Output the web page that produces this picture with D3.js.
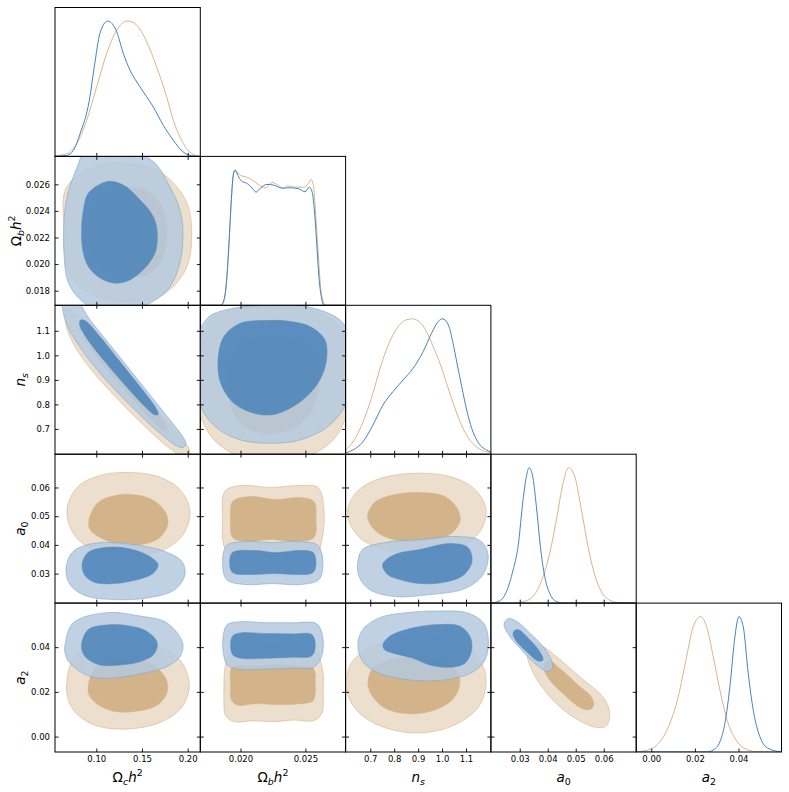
<!DOCTYPE html>
<html>
<head>
<meta charset="utf-8">
<script src="https://cdn.jsdelivr.net/npm/d3@7"></script>
<style>
body { margin: 0; background: #fff; }
text { font-family: "DejaVu Sans", sans-serif; }
</style>
</head>
<body>
<script>
// parameter ranges (axis limits) for omch2, ombh2, ns, a0, a2
var ranges = [[0.0548, 0.2138], [0.0169, 0.0281], [0.597, 1.204], [0.0197, 0.0716], [-0.0069, 0.0597]];
var tickValues = [[0.10, 0.15, 0.20], [0.020, 0.025], [0.7, 0.8, 0.9, 1.0, 1.1], [0.03, 0.04, 0.05, 0.06], [0.00, 0.02, 0.04]];
var yTickValues = [[], [0.018, 0.020, 0.022, 0.024, 0.026], [0.7, 0.8, 0.9, 1.0, 1.1], [0.03, 0.04, 0.05, 0.06], [0.00, 0.02, 0.04]];
var tickFormats = [".2f", ".3f", ".1f", ".2f", ".2f"];

// axis label pieces (text, italic, sub/sup)
var axisLabels = [
  [{s: "\u03A9"}, {s: "c", it: 1, pos: "sub"}, {s: "h", it: 1}, {s: "2", pos: "sup"}],
  [{s: "\u03A9"}, {s: "b", it: 1, pos: "sub"}, {s: "h", it: 1}, {s: "2", pos: "sup"}],
  [{s: "n", it: 1}, {s: "s", it: 1, pos: "sub"}],
  [{s: "a", it: 1}, {s: "0", pos: "sub"}],
  [{s: "a", it: 1}, {s: "2", pos: "sub"}]
];

// 1D marginals, [value, density / peak]
var omch2Tan = [[0.0548,0.005],[0.0676,0.02],[0.0785,0.094],[0.0895,0.267],[0.1004,0.514],[0.1113,0.760],[0.1223,0.933],[0.1340,1.0],[0.1442,0.970],[0.1551,0.847],[0.1660,0.662],[0.1770,0.440],[0.1843,0.267],[0.1916,0.143],[0.1989,0.057],[0.2062,0.015],[0.2138,0.003]];
var omch2Blue = [[0.0548,0],[0.0676,0.007],[0.0749,0.044],[0.0822,0.168],[0.0924,0.415],[0.0978,0.662],[0.1040,0.909],[0.1124,1.0],[0.1223,0.921],[0.1296,0.760],[0.1369,0.637],[0.1478,0.514],[0.1624,0.365],[0.1733,0.230],[0.1843,0.119],[0.1952,0.032],[0.2043,0.005],[0.2138,0]];
var ombh2Tan = [[0.0169,0],[0.01852,0],[0.01878,0.05],[0.01898,0.24],[0.01916,0.53],[0.01934,0.85],[0.01949,0.99],[0.01964,0.99],[0.02000,0.96],[0.02051,0.946],[0.02089,0.926],[0.02140,0.89],[0.02191,0.866],[0.02242,0.907],[0.02286,0.89],[0.02332,0.863],[0.02362,0.882],[0.02421,0.873],[0.02485,0.873],[0.02523,0.90],[0.02543,0.93],[0.02561,0.89],[0.02579,0.681],[0.02597,0.41],[0.02617,0.139],[0.02638,0.028],[0.02658,0],[0.0281,0]];
var ombh2Blue = [[0.0169,0],[0.01847,0],[0.01872,0.04],[0.01893,0.19],[0.01911,0.46],[0.01929,0.78],[0.01944,0.96],[0.01959,1.0],[0.01980,0.96],[0.02005,0.92],[0.02051,0.90],[0.02089,0.866],[0.02120,0.836],[0.02153,0.866],[0.02204,0.893],[0.02255,0.888],[0.02319,0.866],[0.02383,0.868],[0.02446,0.861],[0.02497,0.839],[0.02530,0.873],[0.02551,0.841],[0.02569,0.706],[0.02587,0.459],[0.02604,0.213],[0.02622,0.065],[0.02643,0],[0.0281,0]];
var nsTan = [[0.597,0.03],[0.627,0.09],[0.655,0.178],[0.683,0.30],[0.711,0.449],[0.739,0.622],[0.767,0.77],[0.795,0.881],[0.823,0.956],[0.851,0.993],[0.876,1.0],[0.907,0.975],[0.935,0.906],[0.963,0.795],[0.991,0.672],[1.019,0.523],[1.047,0.375],[1.075,0.24],[1.103,0.14],[1.131,0.074],[1.166,0.03],[1.204,0.012]];
var nsBlue = [[0.597,0.01],[0.627,0.03],[0.669,0.091],[0.711,0.215],[0.753,0.363],[0.795,0.462],[0.837,0.548],[0.879,0.635],[0.921,0.758],[0.956,0.894],[0.984,0.98],[1.002,1.0],[1.026,0.956],[1.047,0.81],[1.061,0.684],[1.082,0.50],[1.103,0.326],[1.124,0.19],[1.145,0.104],[1.166,0.055],[1.187,0.03],[1.204,0.015]];
var a0Tan = [[0.0197,0],[0.02762,0],[0.03238,0.017],[0.03595,0.084],[0.03833,0.195],[0.04071,0.368],[0.04310,0.615],[0.04548,0.886],[0.04738,1.0],[0.04964,0.936],[0.05202,0.689],[0.05440,0.417],[0.05679,0.207],[0.05917,0.084],[0.06214,0.022],[0.06571,0.002],[0.0716,0]];
var a0Blue = [[0.0197,0],[0.02286,0.017],[0.02524,0.084],[0.02762,0.244],[0.02940,0.417],[0.03119,0.763],[0.03238,0.936],[0.03333,1.0],[0.03452,0.948],[0.03595,0.714],[0.03738,0.417],[0.03893,0.195],[0.04071,0.072],[0.04310,0.012],[0.04548,0],[0.0716,0]];
var a2Tan = [[-0.0069,0],[-0.0006,0.02],[0.00399,0.076],[0.00857,0.212],[0.01238,0.409],[0.01620,0.704],[0.01925,0.926],[0.02261,1.0],[0.02536,0.926],[0.02842,0.704],[0.03147,0.458],[0.03453,0.249],[0.03834,0.101],[0.04216,0.032],[0.04827,0.002],[0.0597,0]];
var a2Blue = [[-0.0069,0],[0.02536,0],[0.02842,0.015],[0.03147,0.076],[0.03376,0.212],[0.03605,0.483],[0.03834,0.852],[0.04017,1.0],[0.04216,0.926],[0.04445,0.581],[0.04674,0.31],[0.04979,0.113],[0.05361,0.027],[0.0597,0]];
var marginals = [[omch2Tan, omch2Blue], [ombh2Tan, ombh2Blue], [nsTan, nsBlue], [a0Tan, a0Blue], [a2Tan, a2Blue]];

// 2D contours (68% inner, 95% outer), [x param, y param]
var P10 = {
  tanOuter: [[0.0676,0.02582],[0.1040,0.02745],[0.1333,0.02758],[0.1661,0.02708],[0.1880,0.02582],[0.2007,0.02432],[0.2044,0.02233],[0.2007,0.02008],[0.1880,0.01858],[0.1661,0.01745],[0.1333,0.01720],[0.1040,0.01745],[0.0822,0.01832],[0.0676,0.01982],[0.0650,0.02233]],
  tanInner: [[0.1004,0.02483],[0.1186,0.02558],[0.1405,0.02578],[0.1588,0.02533],[0.1716,0.02432],[0.1770,0.02282],[0.1763,0.02132],[0.1697,0.02008],[0.1551,0.01920],[0.1333,0.01903],[0.1114,0.01933],[0.0986,0.02008],[0.0923,0.02132],[0.0923,0.02333]],
  blueOuter: [[0.0876,0.02858],[0.1150,0.02858],[0.1423,0.02843],[0.1642,0.02760],[0.1806,0.02580],[0.1916,0.02408],[0.1949,0.02235],[0.1916,0.02010],[0.1806,0.01830],[0.1620,0.01718],[0.1369,0.01658],[0.1040,0.01643],[0.0822,0.01733],[0.0690,0.01868],[0.0647,0.02070],[0.0647,0.02333],[0.0690,0.02535],[0.0800,0.02745]],
  blueInner: [[0.0912,0.02533],[0.1114,0.02620],[0.1295,0.02595],[0.1478,0.02483],[0.1624,0.02357],[0.1667,0.02233],[0.1642,0.02083],[0.1514,0.01958],[0.1333,0.01870],[0.1186,0.01858],[0.1040,0.01895],[0.0912,0.01982],[0.0851,0.02108],[0.0840,0.02282],[0.0865,0.02432]]
};
var P20 = {
  tanOuter: [[0.0668,1.1857],[0.0749,1.1789],[0.0913,1.1245],[0.1132,1.0293],[0.1350,0.9272],[0.1569,0.8252],[0.1788,0.7231],[0.1952,0.6551],[0.2025,0.6075],[0.2018,0.5803],[0.1934,0.5871],[0.1733,0.6415],[0.1496,0.7231],[0.1259,0.8116],[0.1022,0.9068],[0.0822,1.0020],[0.0694,1.0905],[0.0658,1.1517]],
  tanInner: [[0.0876,1.1068],[0.0949,1.0905],[0.1150,1.0089],[0.1369,0.9068],[0.1588,0.8048],[0.1752,0.7231],[0.1777,0.6987],[0.1733,0.6959],[0.1588,0.7435],[0.1369,0.8320],[0.1150,0.9272],[0.0949,1.0224],[0.0865,1.0769]],
  blueOuter: [[0.0639,1.2197],[0.0785,1.2197],[0.0931,1.1449],[0.1150,1.0429],[0.1369,0.9408],[0.1588,0.8388],[0.1806,0.7367],[0.1934,0.6755],[0.1981,0.6415],[0.1952,0.6252],[0.1879,0.6306],[0.1697,0.6823],[0.1478,0.7571],[0.1259,0.8388],[0.1040,0.9272],[0.0840,1.0224],[0.0705,1.1041],[0.0639,1.1721]],
  blueInner: [[0.0822,1.1422],[0.0876,1.1422],[0.1040,1.0769],[0.1259,0.9748],[0.1478,0.8728],[0.1642,0.7911],[0.1679,0.7599],[0.1642,0.7571],[0.1515,0.7980],[0.1296,0.8864],[0.1077,0.9816],[0.0895,1.0701],[0.0822,1.1177]]
};
var P30 = {
  tanOuter: [[0.0679,0.05232],[0.0800,0.06035],[0.1040,0.06419],[0.1347,0.06523],[0.1675,0.06383],[0.1916,0.05930],[0.2025,0.05163],[0.1949,0.04360],[0.1719,0.03802],[0.1347,0.03628],[0.0986,0.03802],[0.0756,0.04360]],
  tanInner: [[0.0920,0.04884],[0.1019,0.05476],[0.1205,0.05721],[0.1391,0.05755],[0.1610,0.05581],[0.1752,0.05163],[0.1784,0.04744],[0.1697,0.04256],[0.1500,0.04012],[0.1259,0.04012],[0.1040,0.04256],[0.0931,0.04535]],
  blueOuter: [[0.0668,0.03140],[0.0734,0.03732],[0.0909,0.04012],[0.1172,0.04081],[0.1478,0.03977],[0.1752,0.03767],[0.1938,0.03419],[0.1970,0.02965],[0.1861,0.02442],[0.1588,0.02163],[0.1205,0.02093],[0.0876,0.02233],[0.0712,0.02616]],
  blueInner: [[0.0844,0.03314],[0.0909,0.03732],[0.1095,0.03907],[0.1347,0.03872],[0.1566,0.03628],[0.1675,0.03314],[0.1620,0.03000],[0.1456,0.02791],[0.1205,0.02651],[0.0986,0.02686],[0.0876,0.02930]]
};
var P40 = {
  tanOuter: [[0.0676,0.02373],[0.0731,0.03351],[0.0895,0.04031],[0.1295,0.04334],[0.1661,0.04031],[0.1916,0.03428],[0.2018,0.02296],[0.1934,0.01313],[0.1697,0.00634],[0.1333,0.00335],[0.1004,0.00485],[0.0786,0.01014],[0.0694,0.01617]],
  tanInner: [[0.0912,0.02296],[0.0986,0.03053],[0.1186,0.03505],[0.1405,0.03505],[0.1624,0.03202],[0.1770,0.02523],[0.1770,0.01920],[0.1661,0.01390],[0.1442,0.01132],[0.1186,0.01132],[0.1004,0.01467],[0.0923,0.01843]],
  blueOuter: [[0.0658,0.04108],[0.0748,0.05091],[0.1114,0.05543],[0.1478,0.05389],[0.1770,0.05091],[0.1945,0.04185],[0.1916,0.03578],[0.1770,0.03125],[0.1405,0.02749],[0.1114,0.02600],[0.0895,0.02749],[0.0712,0.03279],[0.0658,0.03732]],
  blueInner: [[0.0840,0.04185],[0.0912,0.04787],[0.1077,0.04982],[0.1333,0.04968],[0.1551,0.04710],[0.1667,0.04185],[0.1624,0.03655],[0.1478,0.03351],[0.1259,0.03202],[0.1040,0.03202],[0.0895,0.03505],[0.0847,0.03804]]
};
var P21 = {
  tanOuter: [[0.01643,0.9544],[0.01770,1.1449],[0.02000,1.1925],[0.02255,1.1993],[0.02536,1.1857],[0.02765,1.1177],[0.02842,0.9544],[0.02829,0.7776],[0.02714,0.6551],[0.02510,0.5871],[0.02255,0.5667],[0.02000,0.5871],[0.01796,0.6551],[0.01668,0.7911]],
  tanInner: [[0.01898,0.9544],[0.01975,1.0360],[0.02102,1.0742],[0.02255,1.0809],[0.02434,1.0660],[0.02548,1.0224],[0.02599,0.9408],[0.02599,0.8456],[0.02536,0.7640],[0.02408,0.7027],[0.02242,0.6823],[0.02077,0.6959],[0.01962,0.7503],[0.01903,0.8456]],
  blueOuter: [[0.01643,1.0224],[0.01745,1.1517],[0.01949,1.1925],[0.02255,1.2034],[0.02561,1.1925],[0.02791,1.1313],[0.02867,0.9952],[0.02842,0.8320],[0.02689,0.7163],[0.02459,0.6551],[0.02230,0.6415],[0.02000,0.6551],[0.01821,0.7027],[0.01694,0.7911]],
  blueInner: [[0.02204,1.1422],[0.02000,1.1313],[0.01872,1.0769],[0.01827,0.9816],[0.01847,0.8864],[0.01949,0.8048],[0.02102,0.7640],[0.02230,0.7571],[0.02357,0.7776],[0.02510,0.8320],[0.02612,0.9000],[0.02663,0.9816],[0.02650,1.0633],[0.02536,1.1177],[0.02383,1.1381]]
};
var P31 = {
  tanOuter: [[0.01862,0.04884],[0.01878,0.05860],[0.02000,0.06069],[0.02230,0.06000],[0.02459,0.06069],[0.02597,0.06000],[0.02643,0.05232],[0.02628,0.04186],[0.02582,0.03663],[0.02383,0.03628],[0.02153,0.03593],[0.01962,0.03628],[0.01878,0.03907]],
  tanInner: [[0.01923,0.04884],[0.01939,0.05511],[0.02077,0.05686],[0.02268,0.05581],[0.02459,0.05651],[0.02566,0.05511],[0.02582,0.04884],[0.02566,0.04256],[0.02421,0.04116],[0.02230,0.04186],[0.02038,0.04116],[0.01939,0.04256]],
  blueOuter: [[0.01862,0.03384],[0.01893,0.03977],[0.02038,0.04116],[0.02245,0.04081],[0.02459,0.04116],[0.02597,0.03977],[0.02635,0.03384],[0.02605,0.02791],[0.02459,0.02616],[0.02245,0.02651],[0.02038,0.02616],[0.01893,0.02791]],
  blueInner: [[0.01916,0.03384],[0.01939,0.03732],[0.02115,0.03802],[0.02268,0.03732],[0.02459,0.03802],[0.02559,0.03732],[0.02582,0.03384],[0.02559,0.03035],[0.02421,0.02965],[0.02268,0.03000],[0.02077,0.02965],[0.01939,0.03035]]
};
var P41 = {
  tanOuter: [[0.01872,0.02070],[0.01885,0.03202],[0.01949,0.03913],[0.02102,0.03958],[0.02281,0.04004],[0.02459,0.03913],[0.02574,0.03850],[0.02633,0.02976],[0.02637,0.02070],[0.02625,0.01014],[0.02561,0.00711],[0.02408,0.00743],[0.02255,0.00666],[0.02102,0.00711],[0.01949,0.00666],[0.01885,0.00937],[0.01872,0.01617]],
  tanInner: [[0.01923,0.02373],[0.01929,0.03053],[0.01975,0.03157],[0.02102,0.03157],[0.02281,0.03202],[0.02459,0.03157],[0.02561,0.03053],[0.02576,0.02373],[0.02561,0.01617],[0.02459,0.01467],[0.02281,0.01436],[0.02102,0.01467],[0.01987,0.01390],[0.01931,0.01617]],
  blueOuter: [[0.01868,0.04561],[0.01898,0.05014],[0.02000,0.05136],[0.02204,0.05091],[0.02408,0.05091],[0.02587,0.05045],[0.02633,0.04484],[0.02625,0.03578],[0.02561,0.03098],[0.02408,0.03053],[0.02204,0.03021],[0.02000,0.03007],[0.01898,0.03202],[0.01868,0.03732]],
  blueInner: [[0.01923,0.04108],[0.01941,0.04515],[0.02000,0.04638],[0.02204,0.04606],[0.02408,0.04592],[0.02549,0.04561],[0.02576,0.04108],[0.02549,0.03610],[0.02408,0.03551],[0.02204,0.03505],[0.02000,0.03505],[0.01941,0.03655]]
};
var P32 = {
  tanOuter: [[0.6047,0.05058],[0.6341,0.05756],[0.7180,0.06244],[0.8649,0.06488],[1.0328,0.06383],[1.1377,0.05930],[1.1838,0.05232],[1.1587,0.04465],[1.0747,0.03942],[0.9069,0.03732],[0.7600,0.03837],[0.6551,0.04256]],
  tanInner: [[0.6887,0.04953],[0.7180,0.05476],[0.8020,0.05756],[0.9069,0.05825],[1.0118,0.05686],[1.0663,0.05232],[1.0747,0.04814],[1.0328,0.04360],[0.9279,0.04151],[0.8146,0.04151],[0.7306,0.04430]],
  blueOuter: [[0.6467,0.03314],[0.6677,0.03837],[0.7600,0.04081],[0.9069,0.04186],[1.0538,0.04291],[1.1587,0.04151],[1.1922,0.03663],[1.1713,0.02965],[1.0957,0.02477],[0.9488,0.02268],[0.8020,0.02198],[0.6971,0.02442],[0.6551,0.02860]],
  blueInner: [[0.7516,0.03314],[0.8020,0.03663],[0.9069,0.03837],[1.0328,0.04046],[1.1083,0.03907],[1.1251,0.03419],[1.0873,0.02930],[1.0034,0.02686],[0.9069,0.02651],[0.8230,0.02791],[0.7726,0.02965]]
};
var P42 = {
  tanOuter: [[0.5993,0.02296],[0.6203,0.03279],[0.6971,0.03958],[0.8511,0.04411],[0.9908,0.04366],[1.1029,0.03958],[1.1725,0.03125],[1.1826,0.02219],[1.1515,0.01313],[1.0609,0.00562],[0.9350,0.00181],[0.8091,0.00258],[0.6971,0.00711],[0.6270,0.01390]],
  tanInner: [[0.6899,0.02373],[0.7109,0.03053],[0.7810,0.03428],[0.8930,0.03578],[1.0047,0.03428],[1.0676,0.02826],[1.0718,0.02219],[1.0399,0.01617],[0.9627,0.01164],[0.8649,0.01014],[0.7671,0.01241],[0.7109,0.01767]],
  blueOuter: [[0.6480,0.04108],[0.6689,0.04787],[0.7390,0.05317],[0.8511,0.05543],[0.9908,0.05616],[1.1029,0.05543],[1.1725,0.05091],[1.1935,0.04334],[1.1797,0.03428],[1.1306,0.02899],[1.0466,0.02600],[0.9488,0.02491],[0.8511,0.02554],[0.7390,0.02826],[0.6689,0.03351]],
  blueInner: [[0.7529,0.04108],[0.7810,0.04484],[0.8788,0.04864],[0.9908,0.05014],[1.0747,0.04937],[1.1167,0.04484],[1.1238,0.03881],[1.0957,0.03279],[1.0328,0.03098],[0.9488,0.03202],[0.8788,0.03505],[0.7948,0.03732],[0.7600,0.03882]]
};
var P43 = {
  tanOuter: [[0.03261,0.03804],[0.03418,0.04108],[0.03775,0.04063],[0.04311,0.03578],[0.05143,0.02672],[0.05975,0.01766],[0.06214,0.01087],[0.06096,0.00485],[0.05739,0.00408],[0.05025,0.00788],[0.04311,0.01467],[0.03714,0.02373],[0.03357,0.03202]],
  tanInner: [[0.03857,0.03202],[0.04011,0.03428],[0.04429,0.03052],[0.05025,0.02373],[0.05561,0.01766],[0.05643,0.01390],[0.05475,0.01196],[0.05143,0.01313],[0.04546,0.01920],[0.04071,0.02523],[0.03893,0.02899]],
  blueOuter: [[0.02439,0.05014],[0.02582,0.05272],[0.02882,0.05163],[0.03357,0.04638],[0.03832,0.04031],[0.04132,0.03428],[0.04154,0.03007],[0.03954,0.02930],[0.03596,0.03202],[0.03061,0.03881],[0.02643,0.04484]],
  blueInner: [[0.02786,0.04710],[0.02939,0.04787],[0.03357,0.04334],[0.03714,0.03804],[0.03832,0.03428],[0.03654,0.03383],[0.03239,0.03804],[0.02882,0.04257],[0.02761,0.04561]]
};
var panels2d = [[1, 0, P10], [2, 0, P20], [3, 0, P30], [4, 0, P40], [2, 1, P21], [3, 1, P31], [4, 1, P41], [3, 2, P32], [4, 2, P42], [4, 3, P43]];

// layout
var W = 145.3, H = 148.9, X0 = 55, Y0 = 7.5;
var tanLine = "#d6b48c", blueLine = "#4682be";

var svg = d3.select("body").append("svg")
  .attr("width", 789)
  .attr("height", 792);
var defs = svg.append("defs");

function pdfLine(x, y) {
  return d3.line().x(function(d) { return x(d[0]); }).y(function(d) { return y(d[1]); }).curve(d3.curveMonotoneX);
}
function contourLine(x, y) {
  return d3.line().x(function(d) { return x(d[0]); }).y(function(d) { return y(d[1]); }).curve(d3.curveCatmullRomClosed.alpha(0.5));
}

function styleAxis(g) {
  g.select(".domain").remove();
  g.attr("font-size", 8.5).attr("font-family", "DejaVu Sans").attr("color", "#000");
  g.selectAll(".tick line").attr("stroke-width", 0.9);
}

for (var i = 0; i < 5; i++) {
  for (var j = 0; j <= i; j++) {
    var g = svg.append("g").attr("transform", "translate(" + (X0 + j * W) + "," + (Y0 + i * H) + ")");
    var id = "clip" + i + j;
    defs.append("clipPath").attr("id", id).append("rect").attr("width", W).attr("height", H);
    var plot = g.append("g").attr("clip-path", "url(#" + id + ")");
    var x = d3.scaleLinear().domain(ranges[j]).range([0, W]);

    if (i === j) {
      var yd = d3.scaleLinear().domain([0, 1.1]).range([H, 0]);
      plot.append("path").datum(marginals[i][0])
        .attr("d", pdfLine(x, yd)).attr("fill", "none").attr("stroke", tanLine).attr("stroke-width", 1);
      plot.append("path").datum(marginals[i][1])
        .attr("d", pdfLine(x, yd)).attr("fill", "none").attr("stroke", blueLine).attr("stroke-width", 1);
    } else {
      var y = d3.scaleLinear().domain(ranges[i]).range([H, 0]);
      var c = panels2d.find(function(p) { return p[0] === i && p[1] === j; })[2];
      var cl = contourLine(x, y);
      plot.append("path").datum(c.tanOuter).attr("d", cl)
        .attr("fill", "#ead9c4").attr("fill-opacity", 0.85).attr("stroke", tanLine).attr("stroke-width", 0.6);
      plot.append("path").datum(c.tanInner).attr("d", cl)
        .attr("fill", "#ceac7e").attr("fill-opacity", 0.85).attr("stroke", tanLine).attr("stroke-width", 0.5);
      plot.append("path").datum(c.blueOuter).attr("d", cl)
        .attr("fill", "#b4c9de").attr("fill-opacity", 0.86).attr("stroke", "#7fa6cc").attr("stroke-width", 0.6);
      plot.append("path").datum(c.blueInner).attr("d", cl)
        .attr("fill", "#4a82b8").attr("fill-opacity", 0.85).attr("stroke", "#5a8dbf").attr("stroke-width", 0.5);

      // inward ticks on top, left and right
      g.append("g").call(d3.axisTop(x).tickValues(tickValues[j]).tickSize(-3.5).tickFormat("")).call(styleAxis);
      var yl = d3.axisLeft(y).tickValues(yTickValues[i]).tickSize(-3.5).tickPadding(5);
      if (j === 0) yl.tickFormat(d3.format(tickFormats[i])); else yl.tickFormat("");
      g.append("g").call(yl).call(styleAxis);
      g.append("g").attr("transform", "translate(" + W + ",0)")
        .call(d3.axisRight(y).tickValues(yTickValues[i]).tickSize(-3.5).tickFormat("")).call(styleAxis);
    }

    var xb = d3.axisBottom(x).tickValues(tickValues[j]).tickSize(-3.5).tickPadding(4);
    if (i === 4) xb.tickFormat(d3.format(tickFormats[j])); else xb.tickFormat("");
    g.append("g").attr("transform", "translate(0," + H + ")").call(xb).call(styleAxis);

    g.append("rect").attr("width", W).attr("height", H)
      .attr("fill", "none").attr("stroke", "#000").attr("stroke-width", 1);
  }
}

// axis labels with sub / superscripts
function mathLabel(t, parts, fs) {
  var cur = 0;
  parts.forEach(function(p) {
    var target = p.pos === "sub" ? fs * 0.24 : (p.pos === "sup" ? -fs * 0.42 : 0);
    t.append("tspan")
      .attr("dy", target - cur)
      .attr("font-size", p.pos ? fs * 0.7 : fs)
      .attr("font-style", p.it ? "italic" : "normal")
      .text(p.s);
    cur = target;
  });
}

var fs = 13.5;
for (var k = 0; k < 5; k++) {
  var tx = svg.append("text")
    .attr("x", X0 + k * W + W / 2)
    .attr("y", 782)
    .attr("text-anchor", "middle")
    .attr("fill", "#000");
  mathLabel(tx, axisLabels[k], fs);
  if (k > 0) {
    var bx = k < 2 ? 21 : 24.5;
    var ty = svg.append("text")
      .attr("transform", "translate(" + bx + "," + (Y0 + k * H + H / 2) + ") rotate(-90)")
      .attr("text-anchor", "middle")
      .attr("fill", "#000");
    mathLabel(ty, axisLabels[k], fs);
  }
}
</script>
</body>
</html>
